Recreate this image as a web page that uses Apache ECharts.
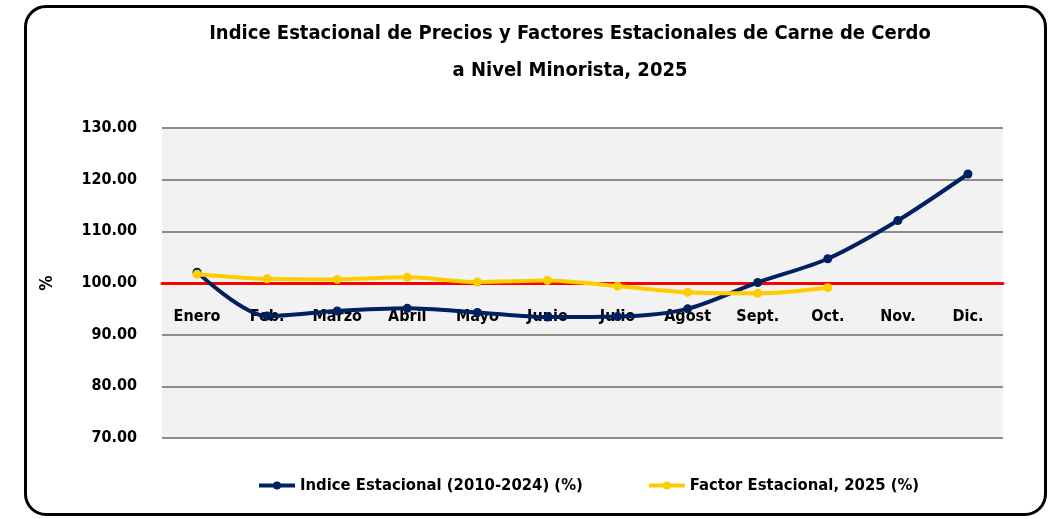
<!DOCTYPE html>
<html>
<head>
<meta charset="utf-8">
<script src="https://cdn.jsdelivr.net/npm/echarts@6/dist/echarts.min.js"></script>
<style>
  html, body { margin: 0; padding: 0; background: #fff; }
  .frame {
    position: absolute; left: 24px; top: 5px; width: 1017px; height: 505px;
    border: 3px solid #000; border-radius: 22px;
  }
  #chart { position: absolute; left: 0; top: 0; width: 1058px; height: 519px; }
</style>
</head>
<body>
<div class="frame"></div>
<div id="chart"></div>
<script>
// datos del grafico
var meses = ['Enero', 'Feb.', 'Marzo', 'Abril', 'Mayo', 'Junio', 'Julio', 'Agost', 'Sept.', 'Oct.', 'Nov.', 'Dic.'];
var indiceEstacional = [102.1, 93.6, 94.6, 95.1, 94.3, 93.4, 93.5, 95.0, 100.1, 104.7, 112.1, 121.1];
var factorEstacional = [101.7, 100.8, 100.7, 101.1, 100.2, 100.5, 99.4, 98.2, 98.0, 99.1];
var nombreIndice = 'Indice Estacional (2010-2024) (%)';
var nombreFactor = 'Factor Estacional, 2025 (%)';

(function () {
    var fuente = "'DejaVu Sans Condensed', 'DejaVu Sans', sans-serif";
    var myChart = echarts.init(document.getElementById('chart'));
    var option = {
        textStyle: { fontFamily: fuente },
        title: {
            text: 'Indice Estacional de Precios y Factores Estacionales de Carne de Cerdo\na Nivel Minorista, 2025',
            left: 565,
            textAlign: 'center',
            top: 10,
            textStyle: {
                fontFamily: fuente,
                fontSize: 20,
                fontWeight: 'bold',
                color: '#000',
                lineHeight: 37
            }
        },
        legend: {
            bottom: 20,
            left: 252,
            itemGap: 64,
            itemWidth: 36,
            itemHeight: 10,
            lineStyle: { width: 4 },
            textStyle: { fontFamily: fuente, fontSize: 16.5, fontWeight: 'bold', color: '#000' },
            data: [nombreIndice, nombreFactor]
        },
        grid: {
            left: 162,
            right: 55,
            top: 128,
            bottom: 81,
            show: true,
            backgroundColor: '#f2f2f2',
            borderWidth: 0
        },
        xAxis: {
            type: 'category',
            data: meses,
            boundaryGap: true,
            offset: -155,
            axisLine: { lineStyle: { color: '#ff0000', width: 3 } },
            axisTick: { show: false },
            axisLabel: {
                interval: 0,
                margin: 26,
                color: '#000',
                fontSize: 16,
                fontWeight: 'bold',
                fontFamily: fuente
            }
        },
        yAxis: {
            type: 'value',
            min: 70,
            max: 130,
            interval: 10,
            name: '%',
            nameLocation: 'middle',
            nameGap: 106,
            nameRotate: 90,
            nameTextStyle: { fontSize: 17, fontWeight: 'bold', color: '#000', fontFamily: fuente },
            axisLine: { show: false },
            axisTick: { show: false },
            axisLabel: {
                margin: 25,
                color: '#000',
                fontSize: 16,
                fontWeight: 'bold',
                fontFamily: fuente,
                formatter: function (v) { return v.toFixed(2); }
            },
            splitLine: { lineStyle: { color: '#8c8c8c', width: 2 } }
        },
        series: [{
            name: nombreIndice,
            type: 'line',
            data: indiceEstacional,
            smooth: 0.3,
            symbol: 'circle',
            symbolSize: 9,
            color: '#002060',
            lineStyle: { width: 4 },
            z: 3
        }, {
            name: nombreFactor,
            type: 'line',
            data: factorEstacional,
            smooth: 0.3,
            symbol: 'circle',
            symbolSize: 9,
            color: '#ffcc00',
            lineStyle: { width: 4 },
            z: 4
        }]
    };
    myChart.setOption(option);
})();
</script>
</body>
</html>
